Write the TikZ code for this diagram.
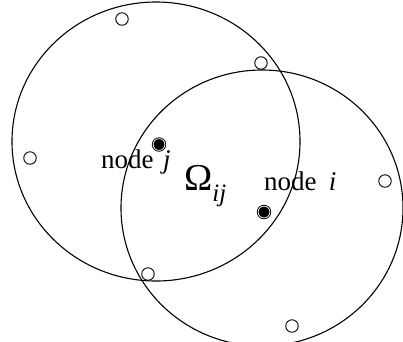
\documentclass[tikz,border=0pt]{standalone}
\usepackage{fontspec}
\setmainfont{Liberation Serif}
\begin{document}
\begin{tikzpicture}[x=1pt,y=-1pt,
  bigcirc/.style={draw=black, line width=1.1pt},
  emptynode/.style={circle, draw=black, fill=white, line width=0.9pt, minimum size=12.5pt, inner sep=0pt},
  lbl/.style={anchor=base west, inner sep=0pt, font=\fontsize{27}{27}\selectfont}]
\useasboundingbox (0,0) rectangle (403,341);
\draw[bigcirc] (156,141.5) ellipse [x radius=144, y radius=139.5];
\draw[bigcirc] (262,208) ellipse [x radius=141, y radius=138];
\node[emptynode] (a) at (122,19) {};
\node[emptynode] (b) at (261,63) {};
\node[emptynode] (c) at (30,158) {};
\node[emptynode] (d) at (385,181) {};
\node[emptynode] (e) at (148,274) {};
\node[emptynode] (f) at (292,326) {};
\fill[black] (159,144.5) circle (7.2pt);
\draw[white, line width=0.7pt] (159,144.5) circle (5.9pt);
\fill[black] (264,212) circle (7.2pt);
\draw[white, line width=0.7pt] (264,212) circle (5.9pt);
\node (nj) at (159,144.5) {};
\node (ni) at (264,212) {};
\node[lbl] (lj) at (101,168) {node\hspace{0.35em}\textit{j}};
\node[lbl] (li) at (264,190) {node\hspace{0.45em}\textit{i}};
\node[anchor=base west, inner sep=0pt] (om) at (184,190) {\fontsize{38}{38}\selectfont Ω\raisebox{-11pt}{\fontsize{25}{25}\selectfont\textit{ij}}};
\end{tikzpicture}
\end{document}
